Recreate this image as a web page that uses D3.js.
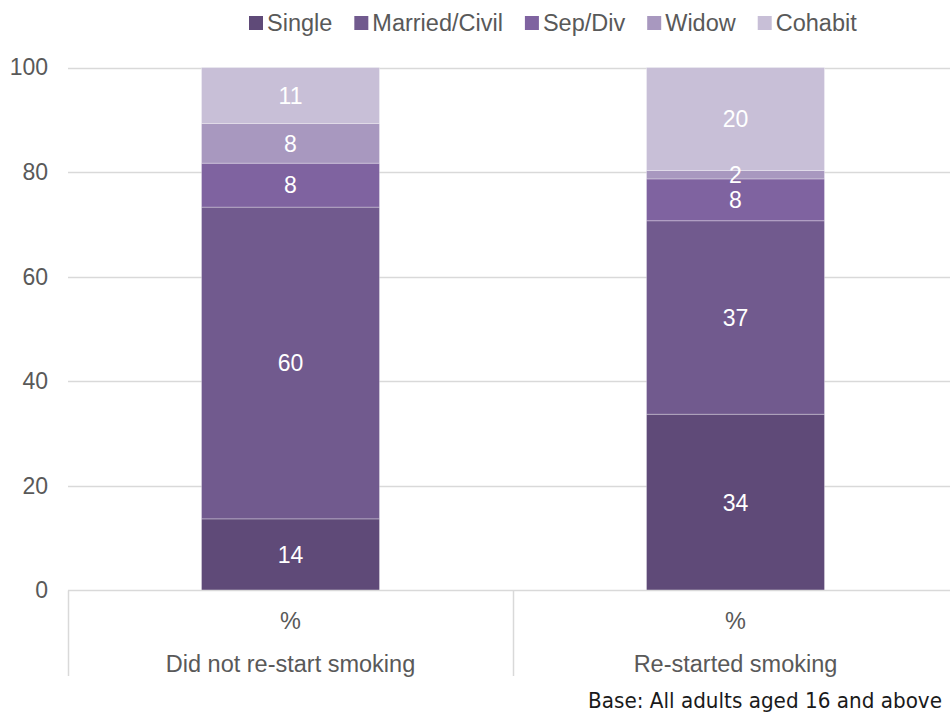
<!DOCTYPE html>
<html>
<head>
<meta charset="utf-8">
<script src="https://cdn.jsdelivr.net/npm/d3@7"></script>
<style>
  html, body { margin: 0; padding: 0; background: #fff; }
  svg { display: block; }
  text { font-family: "Liberation Sans", Arial, sans-serif; }
</style>
</head>
<body>
<svg id="chart" width="950" height="715"></svg>
<script>
// Marital status of adults, by whether they re-started smoking (column %)
const categories = ["Did not re-start smoking", "Re-started smoking"];
const subLabels = ["%", "%"];
const seriesNames = ["Single", "Married/Civil", "Sep/Div", "Widow", "Cohabit"];
const seriesColors = ["#5f4a78", "#715a8e", "#7f63a0", "#a898bf", "#c8bfd7"];
const single = [13.7, 33.7];
const married = [59.6, 37.0];
const sepDiv = [8.4, 8.0];
const widow = [7.6, 1.6];
const cohabit = [10.7, 19.7];
const yTicks = [0, 20, 40, 60, 80, 100];
const baseNote = "Base: All adults aged 16 and above";

const seriesValues = [single, married, sepDiv, widow, cohabit];
const rows = categories.map((c, i) => {
  const r = { category: c };
  seriesNames.forEach((s, j) => { r[s] = seriesValues[j][i]; });
  return r;
});
const stacked = d3.stack().keys(seriesNames)(rows);

const svg = d3.select("#chart");
const plotLeft = 68, plotRight = 958, plotTop = 67.5, plotBottom = 590.5;
const labelSize = "23.5px";

const x = d3.scaleBand().domain(categories).range([plotLeft, plotRight]).paddingInner(0).paddingOuter(0);
const barW = x.bandwidth() * 0.4;
const y = d3.scaleLinear().domain([0, 100]).range([plotBottom, plotTop]);
const color = d3.scaleOrdinal().domain(seriesNames).range(seriesColors);

// Gridlines
svg.append("g")
  .selectAll("line")
  .data(yTicks.filter(t => t > 0))
  .join("line")
  .attr("x1", plotLeft).attr("x2", plotRight)
  .attr("y1", d => Math.round(y(d)) + 0.5).attr("y2", d => Math.round(y(d)) + 0.5)
  .attr("stroke", "#d9d9d9").attr("stroke-width", 1.5);

// Y axis labels
const yAxis = d3.axisLeft(y).tickValues(yTicks).tickSize(0).tickPadding(0);
const yg = svg.append("g").attr("transform", `translate(${plotLeft - 20},0)`).call(yAxis);
yg.select(".domain").remove();
yg.selectAll("text")
  .attr("fill", "#595959")
  .style("font-size", "23px")
  .style("font-family", "'Liberation Sans', Arial, sans-serif");

// Bars
svg.append("g")
  .selectAll("g")
  .data(stacked)
  .join("g")
  .attr("fill", d => color(d.key))
  .selectAll("rect")
  .data(d => d)
  .join("rect")
  .attr("x", d => x(d.data.category) + (x.bandwidth() - barW) / 2)
  .attr("width", barW)
  .attr("y", d => y(d[1]))
  .attr("height", d => y(d[0]) - y(d[1]))
  .attr("stroke", "rgba(255,255,255,0.3)")
  .attr("stroke-width", 1);

// Segment value labels
svg.append("g")
  .selectAll("g")
  .data(stacked)
  .join("g")
  .selectAll("text")
  .data(d => d)
  .join("text")
  .attr("x", d => x(d.data.category) + x.bandwidth() / 2)
  .attr("y", d => y((d[0] + d[1]) / 2))
  .attr("dy", "0.36em")
  .attr("text-anchor", "middle")
  .attr("fill", "#ffffff")
  .style("font-size", "23px")
  .text(d => d3.format(".0f")(d[1] - d[0]));

// Category axis: baseline and band dividers
const axisG = svg.append("g");
axisG.append("line")
  .attr("x1", plotLeft).attr("x2", plotRight)
  .attr("y1", plotBottom).attr("y2", plotBottom)
  .attr("stroke", "#d9d9d9").attr("stroke-width", 1.5);
const dividers = [plotLeft, ...categories.map(c => x(c) + x.bandwidth())];
axisG.selectAll("line.div")
  .data(dividers)
  .join("line")
  .attr("class", "div")
  .attr("x1", d => Math.round(d) + 0.5).attr("x2", d => Math.round(d) + 0.5)
  .attr("y1", plotBottom).attr("y2", 676)
  .attr("stroke", "#d9d9d9").attr("stroke-width", 1.5);

axisG.selectAll("text.sub")
  .data(categories)
  .join("text")
  .attr("class", "sub")
  .attr("x", d => x(d) + x.bandwidth() / 2)
  .attr("y", 629)
  .attr("text-anchor", "middle")
  .attr("fill", "#595959")
  .style("font-size", labelSize)
  .text((d, i) => subLabels[i]);

axisG.selectAll("text.cat")
  .data(categories)
  .join("text")
  .attr("class", "cat")
  .attr("x", d => x(d) + x.bandwidth() / 2)
  .attr("y", 672)
  .attr("text-anchor", "middle")
  .attr("fill", "#595959")
  .style("font-size", labelSize)
  .text(d => d);

// Legend
const legend = svg.append("g");
let lx = 249;
seriesNames.forEach(name => {
  const item = legend.append("g");
  item.append("rect")
    .attr("x", lx).attr("y", 16)
    .attr("width", 14).attr("height", 14)
    .attr("fill", color(name));
  const t = item.append("text")
    .attr("x", lx + 18).attr("y", 30.5)
    .attr("fill", "#595959")
    .style("font-size", labelSize)
    .text(name);
  lx += 18 + t.node().getComputedTextLength() + 22;
});

// Base note
svg.append("text")
  .attr("x", 942).attr("y", 708)
  .attr("text-anchor", "end")
  .attr("fill", "#1a1a1a")
  .style("font-family", "'Liberation Sans Narrow', 'DejaVu Sans Condensed', sans-serif")
  .style("font-size", "21px")
  .attr("textLength", 354)
  .attr("lengthAdjust", "spacingAndGlyphs")
  .text(baseNote);
</script>
</body>
</html>
